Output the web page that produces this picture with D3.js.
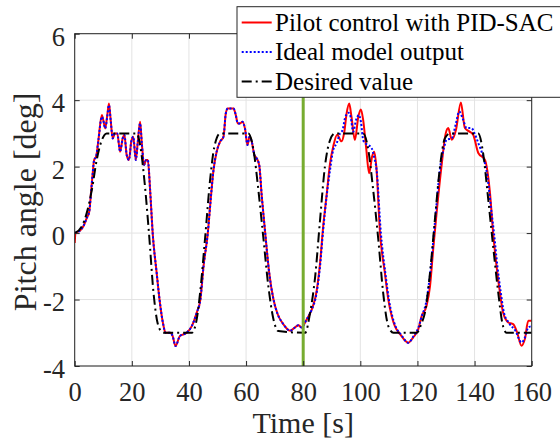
<!DOCTYPE html>
<html>
<head>
<meta charset="utf-8">
<script src="https://d3js.org/d3.v7.min.js"></script>
<style>
  body { margin: 0; background: #fff; }
  svg { display: block; }
</style>
</head>
<body>
<div id="chart"></div>
<script>
// ---- data ----
var xTicks = [0, 20, 40, 60, 80, 100, 120, 140, 160];
var yTicks = [-4, -2, 0, 2, 4, 6];
var seriesNames = ["Pilot control with PID-SAC", "Ideal model output", "Desired value"];
var switchTime = 80;

var tPilot = [0, 0.3, 1.9, 3, 4.2, 5.1, 5.7, 6.3, 6.8, 7.5, 8.3, 9.5, 10, 10.7, 11.4, 12, 12.6, 13.3, 14.1, 14.9,
  15.9, 16.8, 17.4, 18.2, 19, 19.8, 20.5, 21.4, 22.1, 22.9, 23.5, 24.3, 25, 25.6, 26.4, 27.3, 28.7, 29.7, 31, 31.8,
  33.5, 34.3, 35.3, 36.8, 39.2, 41, 42.7, 44, 45.1, 46.6, 47.6, 48.6, 49.7, 50.9, 52.1, 52.9, 53.6, 54.7, 55.6, 56.4,
  57.1, 57.9, 58.7, 59.6, 60.5, 61.2, 62, 62.9, 63.7, 64.6, 65.5, 66.7, 68.1, 69.6, 71.1, 72.7, 74, 75.4, 77.1, 78.3,
  79.4, 81.2, 83, 84.7, 85.9, 87, 88.2, 89.4, 90.5, 91.9, 93.4, 94.4, 95.2, 96.1, 96.9, 98.1, 99.3, 100.2, 101, 102,
  103.1, 104.1, 104.9, 105.6, 106.9, 108.6, 109.8, 111, 112.1, 114, 116.8, 118.5, 120.3, 121.5, 123.2, 124.4, 125.5, 126.7, 128.4, 129.9,
  130.8, 132, 133.5, 135.2, 136.6, 138.1, 139.5, 141.3, 143.6, 145.4, 146.5, 147.7, 148.9, 150, 151.8, 153.5, 154.9, 156.4, 157.6, 158.8, 160];
var pilot = [-0.3, 0, 0.08, 0.2, 0.45, 0.65, 1.2, 1.8, 2.2, 2.3, 2.8, 3.55, 3.4, 3.15, 3.55, 3.9, 3.4, 2.85, 3.0, 3.0,
  2.45, 2.85, 2.95, 2.35, 2.2, 2.75, 2.9, 2.2, 2.75, 3.35, 2.7, 2.05, 2.2, 2.2, 1.3, 0, -1.2, -2.0, -2.75, -3.0,
  -3.0, -3.1, -3.4, -3.1, -3.0, -2.8, -2.4, -2.0, -1.0, 0, 1.0, 1.9, 2.45, 2.75, 2.9, 3.6, 3.75, 3.75, 3.75, 3.55,
  3.3, 3.3, 3.35, 3.15, 2.65, 2.9, 2.75, 2.35, 2.25, 2.05, 1.1, 0, -1.2, -2.0, -2.45, -2.7, -2.85, -2.94, -2.84, -2.77,
  -2.84, -2.6, -2.3, -1.75, -0.9, 0.2, 1.15, 2.1, 2.6, 2.96, 2.76, 3.05, 3.6, 3.9, 3.5, 2.8, 3.5, 3.72, 3.4, 2.6,
  1.8, 2.3, 2.45, 2.0, 0, -1.2, -2.0, -2.5, -2.8, -3.05, -3.3, -3.14, -2.89, -2.49, -2.19, -1.6, -0.5, 0.6, 2.0, 3.0,
  3.16, 2.81, 3.11, 3.93, 3.16, 3.06, 2.96, 2.41, 2.21, 1.2, 0, -1.0, -1.8, -2.4, -2.69, -2.74, -2.99, -3.39, -3.19, -2.64, -2.64];

var tIdeal = [0, 1.9, 3, 4.2, 5.1, 5.7, 6.3, 6.8, 7.5, 8.3, 9.5, 10, 10.7, 11.4, 12, 12.6, 13.3, 14.1, 14.9,
  15.9, 16.8, 17.4, 18.2, 19, 19.8, 20.5, 21.4, 22.1, 22.9, 23.5, 24.3, 25, 25.6, 26.4, 27.3, 28.7, 29.7, 31, 31.8,
  33.5, 34.3, 35.3, 36.8, 39.2, 41, 42.7, 44, 45.1, 46.6, 47.6, 48.6, 49.7, 50.9, 52.1, 52.9, 53.6, 54.7, 55.6, 56.4,
  57.1, 57.9, 58.7, 59.6, 60.5, 61.2, 62, 62.9, 63.7, 64.6, 65.5, 66.7, 68.1, 69.6, 71.1, 72.7, 74, 75.4, 77.1, 78.3,
  79.4, 81.2, 83, 84.7, 85.9, 87, 88.2, 89.4, 90.5, 91.7, 92.9, 93.8, 94.6, 95.8, 96.6, 97.5, 98.5, 99.5, 100.2, 101,
  101.8, 102.8, 104, 104.8, 105.7, 107.2, 108.9, 110, 111.2, 112.3, 114.2, 116.8, 118.5, 120.3, 121.5, 123, 124.6, 126.2, 128, 129.4,
  130.2, 132, 133.5, 134.6, 136, 137.2, 138.9, 140, 141.3, 143, 144.5, 145.7, 146.8, 148, 149.2, 150.3, 152, 154.3, 156.4, 157.6, 158.8, 160];
var ideal = [0, 0.08, 0.2, 0.45, 0.65, 1.2, 1.8, 2.2, 2.3, 2.8, 3.5, 3.4, 3.15, 3.5, 3.85, 3.4, 2.85, 3.0, 3.0,
  2.45, 2.85, 2.95, 2.35, 2.2, 2.75, 2.9, 2.2, 2.75, 3.3, 2.7, 2.05, 2.2, 2.2, 1.3, 0, -1.2, -2.0, -2.75, -3.0,
  -3.0, -3.1, -3.4, -3.1, -3.0, -2.8, -2.4, -2.0, -1.0, 0, 1.0, 1.9, 2.45, 2.75, 2.9, 3.6, 3.75, 3.75, 3.75, 3.55,
  3.3, 3.3, 3.35, 3.15, 2.65, 2.9, 2.75, 2.35, 2.25, 2.05, 1.1, 0, -1.2, -2.0, -2.45, -2.7, -2.85, -2.94, -2.84, -2.77,
  -2.84, -2.6, -2.3, -1.8, -1.0, 0.1, 1.1, 1.9, 2.5, 2.7, 3.0, 3.1, 3.45, 3.62, 3.5, 3.05, 3.4, 3.55, 3.35, 2.8,
  2.7, 2.65, 2.55, 2.3, 1.9, 0, -1.3, -2.0, -2.5, -2.8, -3.05, -3.3, -3.12, -2.85, -2.5, -2.1, -1.1, 0.4, 2.0, 2.6,
  2.81, 2.85, 3.31, 3.66, 3.41, 3.16, 3.16, 3.0, 2.71, 2.3, 1.7, 0.8, 0, -1.0, -1.8, -2.4, -2.7, -2.94, -3.29, -3.15, -2.84, -2.8];

var tDesired = [0, 2.5, 4.2, 6, 7.7, 9.5, 11.2, 21.7, 23, 24.5, 26, 27.6, 29, 30.5, 31.5, 41, 42.7, 43.9, 45.6, 47.4,
  48.9, 50.9, 60.8, 62.6, 64.3, 66, 67.8, 69.6, 71.3, 80.7, 82.4, 84.2, 85.9, 87.6, 89.4, 91.1, 101, 102.8, 104.5, 106.3,
  108, 109.8, 111.6, 119.7, 121.5, 122.6, 124.4, 126.1, 127.9, 129.6, 131.4, 141.3, 143, 144.8, 146.5, 148.3, 149.7, 151.2, 160];
var desired = [0, 0.2, 0.6, 1.3, 2.2, 2.8, 3, 3, 2.6, 1.5, 0, -1.8, -2.7, -2.97, -3, -3, -2.6, -1.8, -0.2, 1.6,
  2.6, 3, 3, 2.5, 1.3, -0.1, -1.6, -2.6, -2.95, -3, -2.4, -1.3, 0.4, 2, 2.8, 3, 3, 2.5, 1.3, -0.2,
  -1.8, -2.8, -3, -3, -2.7, -2.4, -1.2, 0.4, 2, 2.85, 3, 3, 2.4, 1, -0.4, -1.8, -2.7, -3, -3];

(function() {
  // ---- layout ----
  var W = 560, H = 445;
  var mLeft = 74.7, mTop = 33.7, mRight = 531.7, mBottom = 366;
  var axisColor = "#262626";
  var serif = "Liberation Serif";

  var svg = d3.select("#chart").append("svg")
    .attr("width", W).attr("height", H);

  var x = d3.scaleLinear().domain([0, 160]).range([mLeft, mRight]);
  var y = d3.scaleLinear().domain([-4, 6]).range([mBottom, mTop]);

  // grid
  var grid = svg.append("g").attr("stroke", "#e3e3e3").attr("stroke-width", 1);
  grid.selectAll(".gx").data(xTicks).enter().append("line")
    .attr("x1", d => x(d)).attr("x2", d => x(d)).attr("y1", mTop).attr("y2", mBottom);
  grid.selectAll(".gy").data(yTicks).enter().append("line")
    .attr("y1", d => y(d)).attr("y2", d => y(d)).attr("x1", mLeft).attr("x2", mRight);

  // clip
  svg.append("clipPath").attr("id", "plot")
    .append("rect").attr("x", mLeft).attr("y", mTop).attr("width", mRight - mLeft).attr("height", mBottom - mTop);

  var line = d3.line().curve(d3.curveMonotoneX);
  function pts(ts, vs) { return ts.map((t, i) => [x(t), y(vs[i])]); }

  var lines = svg.append("g").attr("clip-path", "url(#plot)").attr("fill", "none");
  lines.append("path").attr("d", line(pts(tPilot, pilot)))
    .attr("stroke", "#ff0000").attr("stroke-width", 2);
  lines.append("path").attr("d", line(pts(tIdeal, ideal)))
    .attr("stroke", "#0000ff").attr("stroke-width", 2).attr("stroke-dasharray", "2,2");
  lines.append("path").attr("d", line(pts(tDesired, desired)))
    .attr("stroke", "#000").attr("stroke-width", 2).attr("stroke-dasharray", "10,4,2,4");
  lines.append("line")
    .attr("x1", x(switchTime)).attr("x2", x(switchTime)).attr("y1", mTop).attr("y2", mBottom)
    .attr("stroke", "#77ac30").attr("stroke-width", 3);

  // axes
  var fontTick = 26.5;
  var fmt = d => String(d);   // plain hyphen minus like the original
  var gx = svg.append("g").attr("transform", "translate(0," + mBottom + ")")
    .call(d3.axisBottom(x).tickValues(xTicks).tickFormat(fmt).tickSizeInner(-5).tickSizeOuter(0).tickPadding(16.2));
  var gy = svg.append("g").attr("transform", "translate(" + mLeft + ",0)")
    .call(d3.axisLeft(y).tickValues(yTicks).tickFormat(fmt).tickSizeInner(-5).tickSizeOuter(0).tickPadding(9.7));
  var gt = svg.append("g").attr("transform", "translate(0," + mTop + ")")
    .call(d3.axisTop(x).tickValues(xTicks).tickSizeInner(-5).tickSizeOuter(0).tickFormat(""));
  var gr = svg.append("g").attr("transform", "translate(" + mRight + ",0)")
    .call(d3.axisRight(y).tickValues(yTicks).tickSizeInner(-5).tickSizeOuter(0).tickFormat(""));

  [gx, gy, gt, gr].forEach(g => {
    g.select(".domain").remove();
    g.selectAll(".tick line").attr("stroke", axisColor);
    g.selectAll(".tick text").attr("fill", axisColor)
      .style("font-family", serif).style("font-size", fontTick + "px");
  });
  gy.selectAll(".tick text").attr("dy", "0.43em");

  svg.append("rect").attr("x", mLeft).attr("y", mTop)
    .attr("width", mRight - mLeft).attr("height", mBottom - mTop)
    .attr("fill", "none").attr("stroke", axisColor).attr("stroke-width", 1);

  // axis labels
  svg.append("text").attr("x", (mLeft + mRight) / 2).attr("y", 433)
    .attr("text-anchor", "middle").attr("fill", axisColor)
    .style("font-family", serif).style("font-size", "30px").text("Time [s]");
  svg.append("text").attr("transform", "translate(36," + ((mTop + mBottom) / 2 + 2) + ") rotate(-90)")
    .attr("text-anchor", "middle").attr("fill", axisColor)
    .style("font-family", serif).style("font-size", "32px").text("Pitch angle [deg]");

  // legend
  var lg = svg.append("g");
  lg.append("rect").attr("x", 237).attr("y", 6.7).attr("width", 330).attr("height", 90.6)
    .attr("fill", "#fff").attr("stroke", axisColor).attr("stroke-width", 1);
  var legendStyles = [
    {stroke: "#ff0000", dash: null},
    {stroke: "#0000ff", dash: "2,2"},
    {stroke: "#000", dash: "10,4,2,4"}
  ];
  var rowBase = [30.5, 60, 89.5];
  seriesNames.forEach((name, i) => {
    lg.append("line").attr("x1", 241.7).attr("x2", 271.7)
      .attr("y1", rowBase[i] - 8).attr("y2", rowBase[i] - 8)
      .attr("stroke", legendStyles[i].stroke).attr("stroke-width", 2)
      .attr("stroke-dasharray", legendStyles[i].dash);
    lg.append("text").attr("x", 275).attr("y", rowBase[i])
      .attr("fill", "#000").style("font-family", serif).style("font-size", "25px").text(name);
  });
})();
</script>
</body>
</html>
